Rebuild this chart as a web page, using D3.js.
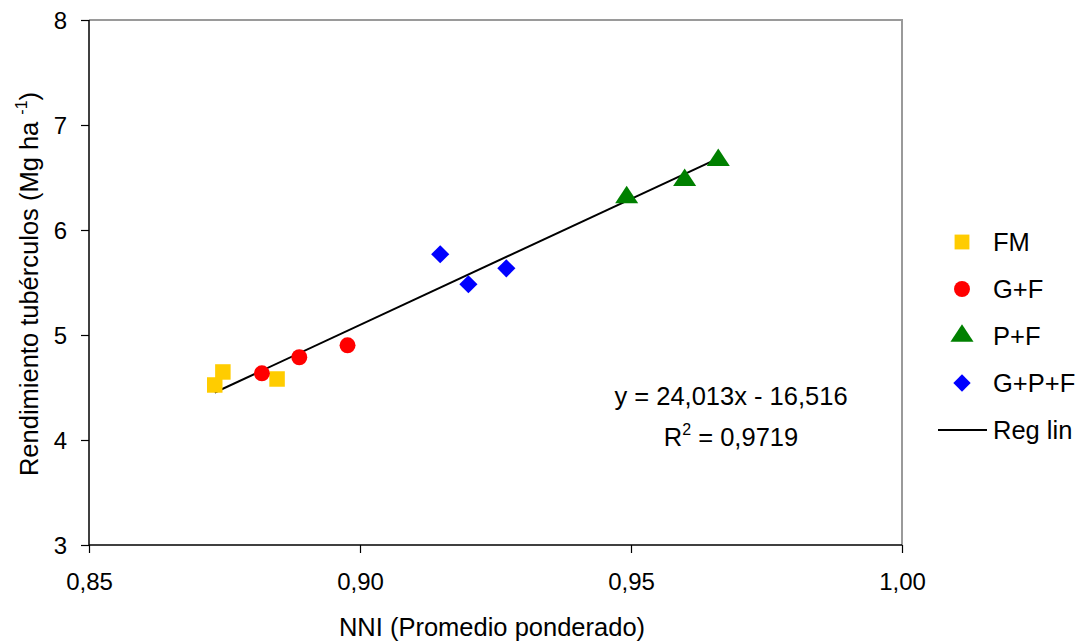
<!DOCTYPE html>
<html><head><meta charset="utf-8">
<script src="https://cdn.jsdelivr.net/npm/d3@7"></script>
<style>
html,body{margin:0;padding:0;background:#fff;}
text{font-family:"Liberation Sans",Arial,sans-serif;fill:#000;}
</style></head>
<body><svg id="c" width="1088" height="643"></svg>
<script>
// Data
const seriesNames = ["FM","G+F","P+F","G+P+F"];
const fmX = [0.8732, 0.8747, 0.8847];
const fmY = [4.524, 4.648, 4.581];
const gfX = [0.8819, 0.8888, 0.8977];
const gfY = [4.635, 4.788, 4.902];
const pfX = [0.9492, 0.9599, 0.9661];
const pfY = [6.324, 6.488, 6.679];
const gpfX = [0.9148, 0.9200, 0.9270];
const gpfY = [5.769, 5.483, 5.635];
const regSlope = 24.013, regIntercept = -16.516;
const regXRange = [0.8732, 0.9661];
const xTicks = [0.85, 0.90, 0.95, 1.00];
const yTicks = [3,4,5,6,7,8];
const eqText = "y = 24,013x - 16,516";
const r2Value = "0,9719";

const svg = d3.select("#c");
const L=89, R=902, T=20, B=545;
const x = d3.scaleLinear().domain([0.85,1.00]).range([L,R]);
const y = d3.scaleLinear().domain([3,8]).range([B,T]);
const fmt = v => d3.format(".2f")(v).replace(".", ",");

// plot frame top/right gray
svg.append("path").attr("d",`M${L},${T}H${R}V${B}`).attr("fill","none").attr("stroke","#9a9a9a").attr("stroke-width",2);

// axes
const xAxis = svg.append("g").attr("transform",`translate(0,${B})`)
  .call(d3.axisBottom(x).tickValues(xTicks).tickFormat(fmt).tickSize(8).tickPadding(20));
const yAxis = svg.append("g").attr("transform",`translate(${L},0)`)
  .call(d3.axisLeft(y).tickValues(yTicks).tickFormat(d3.format("d")).tickSize(8).tickPadding(14));
[xAxis,yAxis].forEach(g=>{
  g.select(".domain").attr("stroke","#000").attr("stroke-width",1.5);
  g.selectAll(".tick line").attr("stroke","#000").attr("stroke-width",1.2);
  g.selectAll(".tick text").attr("font-size",24).attr("font-family","Liberation Sans, Arial, sans-serif").attr("fill","#000");
});
yAxis.selectAll(".tick text").attr("dy","0.36em");
xAxis.selectAll(".tick text").attr("dy","0.7em");
xAxis.select(".domain").attr("d",`M${L},0H${R}`);
yAxis.select(".domain").attr("d",`M0,${B}V${T}`);

// regression line
svg.append("line")
  .attr("x1",x(regXRange[0])).attr("y1",y(regSlope*regXRange[0]+regIntercept))
  .attr("x2",x(regXRange[1])).attr("y2",y(regSlope*regXRange[1]+regIntercept))
  .attr("stroke","#000").attr("stroke-width",2);

const sym = {
  "FM": {type:d3.symbolSquare, size:240, color:"#FFCC00"},
  "G+F": {type:d3.symbolCircle, size:200, color:"#FF0000"},
  "P+F": {type:d3.symbolTriangle, size:160, color:"#008000"},
  "G+P+F": {type:d3.symbolDiamond, size:165, color:"#0000FF"}
};
const data = [
  {name:"FM", xs:fmX, ys:fmY},
  {name:"G+F", xs:gfX, ys:gfY},
  {name:"P+F", xs:pfX, ys:pfY},
  {name:"G+P+F", xs:gpfX, ys:gpfY}
];
function drawSym(g, name, cx, cy){
  const s = sym[name];
  let shape = d3.symbol().type(s.type).size(s.size)();
  let tr = `translate(${cx},${cy})`;
  if(name==="G+P+F"){ shape = d3.symbol().type(d3.symbolSquare).size(s.size)(); tr += " rotate(45)"; }
  if(name==="P+F"){ tr = `translate(${cx},${cy+1.5}) scale(1.2,1.05)`; }
  g.append("path").attr("d",shape).attr("transform",tr).attr("fill",s.color);
}
data.forEach(d=>{
  const g = svg.append("g");
  d.xs.forEach((xv,i)=>drawSym(g,d.name,x(xv),y(d.ys[i])));
});

// equation
svg.append("text").attr("x",731).attr("y",405).attr("text-anchor","middle").attr("font-size",25.5)
  .text(eqText);
const r2 = svg.append("text").attr("x",731).attr("y",446).attr("text-anchor","middle").attr("font-size",25.5);
r2.append("tspan").text("R");
r2.append("tspan").attr("font-size",16).attr("dy",-11).text("2");
r2.append("tspan").attr("dy",11).text(" = "+r2Value);

// legend
const legY0 = 242, legDy = 47;
seriesNames.forEach((n,i)=>{
  const cy = legY0 + i*legDy;
  const g = svg.append("g");
  const s = sym[n];
  let shape, tr=`translate(962,${cy})`;
  if(n==="FM") shape = d3.symbol().type(d3.symbolSquare).size(220)();
  else if(n==="G+F") shape = d3.symbol().type(d3.symbolCircle).size(200)();
  else if(n==="P+F"){ shape = d3.symbol().type(d3.symbolTriangle).size(160)(); tr += " scale(1.2,1.05)"; }
  else { shape = d3.symbol().type(d3.symbolSquare).size(150)(); tr += " rotate(45)"; }
  g.append("path").attr("d",shape).attr("transform",tr).attr("fill",s.color);
  g.append("text").attr("x",993).attr("y",cy).attr("dy","0.36em").attr("font-size",25.5).text(n);
});
const ly = legY0 + 4*legDy;
svg.append("line").attr("x1",938).attr("x2",987).attr("y1",ly).attr("y2",ly).attr("stroke","#000").attr("stroke-width",2);
svg.append("text").attr("x",993).attr("y",ly).attr("dy","0.36em").attr("font-size",25.5).text("Reg lin");

// axis titles
svg.append("text").attr("x",492).attr("y",636).attr("text-anchor","middle").attr("font-size",25.5)
  .text("NNI (Promedio ponderado)");
const yt = svg.append("text").attr("transform",`translate(38,284) rotate(-90)`).attr("text-anchor","middle").attr("font-size",25.5);
yt.append("tspan").text("Rendimiento tubérculos (Mg ha ");
yt.append("tspan").attr("font-size",16).attr("dy",-11).text("-1");
yt.append("tspan").attr("dy",11).text(")");
</script></body></html>
